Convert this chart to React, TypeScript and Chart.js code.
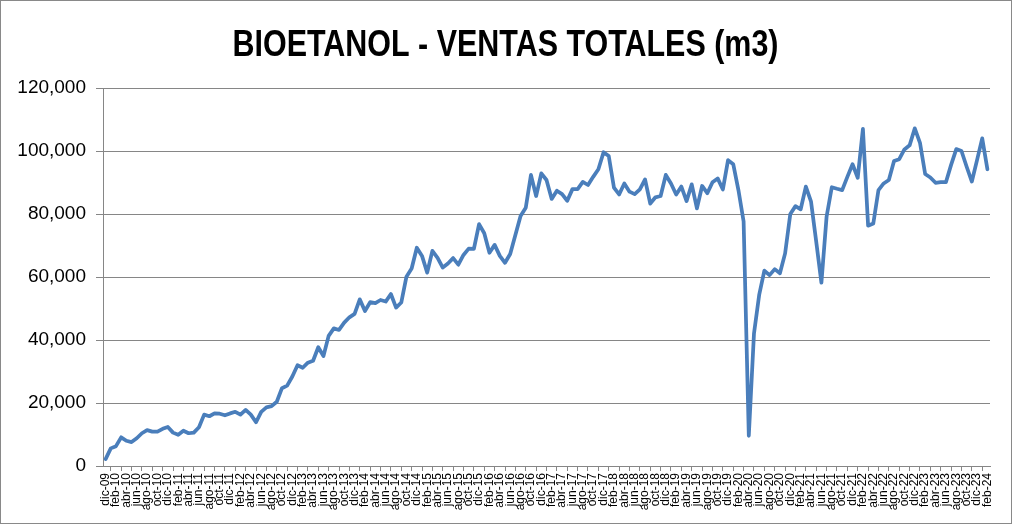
import { useEffect, useRef } from "react";
import { Chart, registerables } from "chart.js";

Chart.register(...registerables);

const TITLE = "BIOETANOL - VENTAS TOTALES (m3)";
const MONTHS = ["ene", "feb", "mar", "abr", "may", "jun", "jul", "ago", "sep", "oct", "nov", "dic"];
const START_YEAR = 2009; // first category: dic-09
const START_MONTH = 11; // index in MONTHS (dic)

// Monthly totals (m3)
const v2009 = [2200];
const v2010 = [5600, 6300, 9100, 8000, 7600, 8800, 10400, 11400, 10900, 10900, 11800, 12400];
const v2011 = [10600, 9900, 11200, 10400, 10600, 12300, 16300, 15800, 16700, 16600, 16100, 16700];
const v2012 = [17200, 16300, 17800, 16300, 13900, 17200, 18600, 19000, 20400, 24700, 25500, 28400];
const v2013 = [32000, 31200, 32800, 33400, 37700, 34900, 41300, 43700, 43200, 45500, 47200, 48300];
const v2014 = [52900, 49200, 52000, 51700, 52700, 52200, 54600, 50300, 51900, 60100, 62700, 69300];
const v2015 = [66700, 61400, 68300, 66100, 63000, 64300, 66000, 63900, 67000, 69000, 68900, 76800];
const v2016 = [73900, 67700, 70200, 66700, 64500, 67300, 73300, 79400, 82000, 92400, 85700, 92900];
const v2017 = [90800, 84800, 87400, 86300, 84200, 87900, 87900, 90200, 89200, 91800, 94200, 99600];
const v2018 = [98400, 88400, 86200, 89700, 87100, 86300, 87800, 91000, 83300, 85300, 85700, 92400];
const v2019 = [89700, 86200, 88700, 84100, 89400, 81800, 88900, 86600, 90100, 91300, 87800, 97100];
const v2020 = [95800, 87600, 77600, 9600, 42100, 54300, 62000, 60600, 62500, 61200, 67500, 80000];
const v2021 = [82500, 81500, 88700, 83900, 71200, 58200, 79200, 88500, 88000, 87600, 91800, 95800];
const v2022 = [91500, 107000, 76300, 77000, 87600, 89700, 90800, 96800, 97400, 100500, 101800, 107200];
const v2023 = [102600, 92700, 91600, 89900, 90100, 90100, 95600, 100600, 100000, 95000, 90300, 97100];
const v2024 = [104000, 94200];

const VALUES = [
  ...v2009, ...v2010, ...v2011, ...v2012, ...v2013, ...v2014, ...v2015, ...v2016,
  ...v2017, ...v2018, ...v2019, ...v2020, ...v2021, ...v2022, ...v2023, ...v2024,
];

const CATEGORIES = VALUES.map((_, i) => {
  const m = START_MONTH + i;
  const y = START_YEAR + Math.floor(m / 12);
  return `${MONTHS[m % 12]}-${String(y % 100).padStart(2, "0")}`;
});

const Y_MIN = 0;
const Y_MAX = 120000;
const Y_STEP = 20000;

const GRID = "#868686";
const LINE = "#4A7EBB";

const titlePlugin = {
  id: "excelTitle",
  afterDraw(chart: any) {
    const ctx = chart.ctx as CanvasRenderingContext2D;
    ctx.save();
    ctx.font = 'bold 37px "Liberation Sans", Arial, sans-serif';
    ctx.fillStyle = "#000";
    ctx.textBaseline = "alphabetic";
    ctx.textAlign = "left";
    const w = ctx.measureText(TITLE).width;
    const target = 546;
    const sx = target / w;
    const cx = 504.5;
    ctx.translate(cx - target / 2, 55);
    ctx.scale(sx, 1);
    ctx.fillText(TITLE, 0, 0);
    ctx.restore();
  },
};

export default function App() {
  const ref = useRef<HTMLCanvasElement | null>(null);

  useEffect(() => {
    if (!ref.current) return;
    const chart = new Chart(ref.current, {
      type: "line",
      data: {
        labels: CATEGORIES,
        datasets: [
          {
            data: VALUES,
            borderColor: LINE,
            backgroundColor: LINE,
            borderWidth: 3.75,
            pointRadius: 0,
            pointHoverRadius: 0,
            tension: 0,
            borderJoinStyle: "round",
            borderCapStyle: "round",
            fill: false,
          },
        ],
      },
      options: {
        animation: false,
        responsive: false,
        devicePixelRatio: 1,
        layout: { padding: { top: 87, left: 0, right: 21, bottom: 0 } },
        plugins: {
          legend: { display: false },
          tooltip: { enabled: false },
          title: { display: false },
        },
        scales: {
          x: {
            type: "category",
            offset: true,
            afterFit(scale: any) {
              scale.height = 57;
            },
            grid: {
              display: true,
              offset: true,
              drawOnChartArea: false,
              drawTicks: true,
              tickLength: 5,
              color: GRID,
            },
            border: { display: true, color: GRID, width: 1 },
            ticks: {
              autoSkip: false,
              maxRotation: 90,
              minRotation: 90,
              padding: 2,
              color: "#000",
              font: { family: '"Liberation Sans", Arial, sans-serif', size: 12 },
              callback: (_v: any, idx: number) => (idx % 2 === 0 ? CATEGORIES[idx] : null),
            },
          },
          y: {
            min: Y_MIN,
            max: Y_MAX,
            afterFit(scale: any) {
              scale.width = 102;
            },
            grid: {
              color: GRID,
              tickLength: 7,
              drawTicks: true,
            },
            border: { display: true, color: GRID, width: 1 },
            ticks: {
              stepSize: Y_STEP,
              padding: 10,
              color: "#000",
              font: { family: '"Liberation Sans", Arial, sans-serif', size: 19 },
              callback: (v: any) => Number(v).toLocaleString("en-US"),
            },
          },
        },
      },
      plugins: [titlePlugin],
    });
    return () => chart.destroy();
  }, []);

  return (
    <div
      style={{
        position: "absolute",
        left: 0,
        top: 0,
        width: 1012,
        height: 524,
        border: "1px solid #898989",
        boxSizing: "border-box",
        background: "#fff",
      }}
    >
      <canvas ref={ref} width={1010} height={522} style={{ display: "block", width: 1010, height: 522 }} />
    </div>
  );
}
